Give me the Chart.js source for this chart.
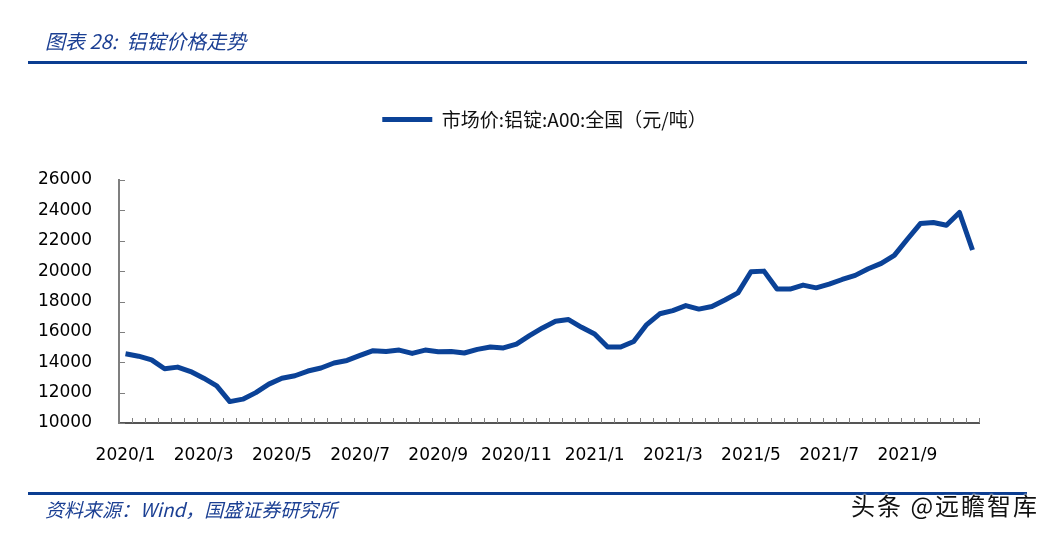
<!DOCTYPE html>
<html>
<head>
<meta charset="utf-8">
<script src="https://cdn.jsdelivr.net/npm/chart.js@4"></script>
<style>
  body { margin: 0; background: #fff; }
  #wrap { position: relative; width: 1061px; height: 534px; overflow: hidden; }
  #chart { position: absolute; left: 0; top: 0; }
  .title { position: absolute; left: 45px; top: 26px; font: italic 20px "Noto Sans CJK SC", sans-serif; color: #1b3f93; }
  .rule { position: absolute; left: 28px; width: 999px; height: 3px; background: #0b3d91; }
  .source { position: absolute; left: 45px; top: 495px; font: italic 19px "Noto Sans CJK SC", sans-serif; color: #1b3f93; }
  .mark { position: absolute; left: 851px; top: 487px; font: 24px "Noto Sans CJK SC", sans-serif; color: #111;
          letter-spacing: 2px; text-shadow: 0 0 2px #fff, 0 0 2px #fff, 0 0 2px #fff; }
</style>
</head>
<body>
<div id="wrap">
  <canvas id="chart" width="1061" height="534"></canvas>
  <div class="title">图表 28:&nbsp; 铝锭价格走势</div>
  <div class="rule" style="top:61px"></div>
  <div class="rule" style="top:492px"></div>
  <div class="source">资料来源：Wind，国盛证券研究所</div>
  <div class="mark">头条 @远瞻智库</div>
</div>
<script>
// 旬度数据：2020/1 - 2021/10，每月三个点
var months = ["2020/1", "2020/2", "2020/3", "2020/4", "2020/5", "2020/6", "2020/7", "2020/8",
              "2020/9", "2020/10", "2020/11", "2020/12", "2021/1", "2021/2", "2021/3", "2021/4",
              "2021/5", "2021/6", "2021/7", "2021/8", "2021/9", "2021/10"];
var days = ["1", "11", "21"];

var seriesName = "市场价:铝锭:A00:全国（元/吨）";
var prices = [
  14560, 14400, 14160, 13570, 13680, 13390, 12950, 12450, 11410, 11570, 12000, 12560,
  12950, 13110, 13420, 13620, 13950, 14120, 14450, 14760, 14710, 14800, 14580, 14800,
  14690, 14710, 14610, 14850, 15000, 14940, 15200, 15750, 16260, 16700, 16810, 16300,
  15860, 15000, 15000, 15370, 16480, 17190, 17400, 17730, 17500, 17670, 18100, 18570,
  19960, 20000, 18820, 18820, 19080, 18900, 19140, 19450, 19720, 20160, 20510, 21040,
  22100, 23130, 23200, 23020, 23860, 21390
];
var yTicks = [10000, 12000, 14000, 16000, 18000, 20000, 22000, 24000, 26000];

var labels = [];
months.forEach(function (m) {
    days.forEach(function (d) { labels.push(m + "/" + d); });
});

var lineColor = "#0b4297";
var axisColor = "#7f7f7f";

// 刻度线朝内画
var innerTicks = {
    id: "innerTicks",
    afterDraw: function (chart) {
        var ctx = chart.ctx;
        var xs = chart.scales.x, ys = chart.scales.y;
        var area = chart.chartArea;
        var step = xs.getPixelForValue(1) - xs.getPixelForValue(0);
        ctx.save();
        ctx.strokeStyle = axisColor;
        ctx.lineWidth = 1;
        ctx.beginPath();
        for (var i = 0; i <= labels.length; i++) {
            var px = Math.round(xs.getPixelForValue(0) - step / 2 + i * step) + 0.5;
            ctx.moveTo(px, area.bottom);
            ctx.lineTo(px, area.bottom - 5);
        }
        yTicks.forEach(function (v) {
            var py = Math.round(ys.getPixelForValue(v)) + 0.5;
            ctx.moveTo(area.left, py);
            ctx.lineTo(area.left + 6, py);
        });
        ctx.stroke();
        ctx.restore();
    }
};

// 图例下方留空，并整体右移
var legendGap = {
    id: "legendGap",
    beforeInit: function (chart) {
        var fit = chart.legend.fit;
        chart.legend.fit = function () {
            fit.bind(chart.legend)();
            this.height += 41;
        };
    },
    afterLayout: function (chart) {
        chart.legend.left += 55;
        chart.legend.right += 55;
    }
};

var tickFont = { family: "DejaVu Sans", size: 17 };

new Chart(document.getElementById("chart"), {
    type: "line",
    data: {
        labels: labels,
        datasets: [{
            label: seriesName,
            data: prices,
            borderColor: lineColor,
            backgroundColor: lineColor,
            borderWidth: 5,
            pointRadius: 0,
            tension: 0,
            borderJoinStyle: "round"
        }]
    },
    options: {
        responsive: false,
        animation: false,
        layout: { padding: { top: 100, right: 82, left: 0, bottom: 0 } },
        plugins: {
            tooltip: { enabled: false },
            legend: {
                display: true,
                labels: {
                    color: "#111",
                    font: { family: "Noto Sans CJK SC", size: 19 },
                    usePointStyle: true,
                    pointStyle: "line",
                    pointStyleWidth: 50,
                    padding: 10
                }
            }
        },
        scales: {
            x: {
                offset: true,
                grid: { display: false },
                border: { display: true, color: "#555", width: 2 },
                ticks: {
                    autoSkip: false,
                    maxRotation: 0,
                    color: "#000",
                    font: tickFont,
                    padding: 14,
                    callback: function (value, index) {
                        return index % 6 === 0 ? months[index / 3] : "";
                    }
                },
                afterFit: function (scale) { scale.height = 111; }
            },
            y: {
                min: 10000,
                max: 26000,
                grid: { display: false },
                border: { display: true, color: axisColor, width: 2 },
                afterBuildTicks: function (scale) {
                    scale.ticks = yTicks.map(function (v) { return { value: v }; });
                },
                ticks: {
                    color: "#000",
                    font: tickFont,
                    padding: 19,
                    callback: function (value) { return String(value); }
                },
                afterFit: function (scale) { scale.width = 119; }
            }
        }
    },
    plugins: [innerTicks, legendGap]
});
</script>
</body>
</html>
